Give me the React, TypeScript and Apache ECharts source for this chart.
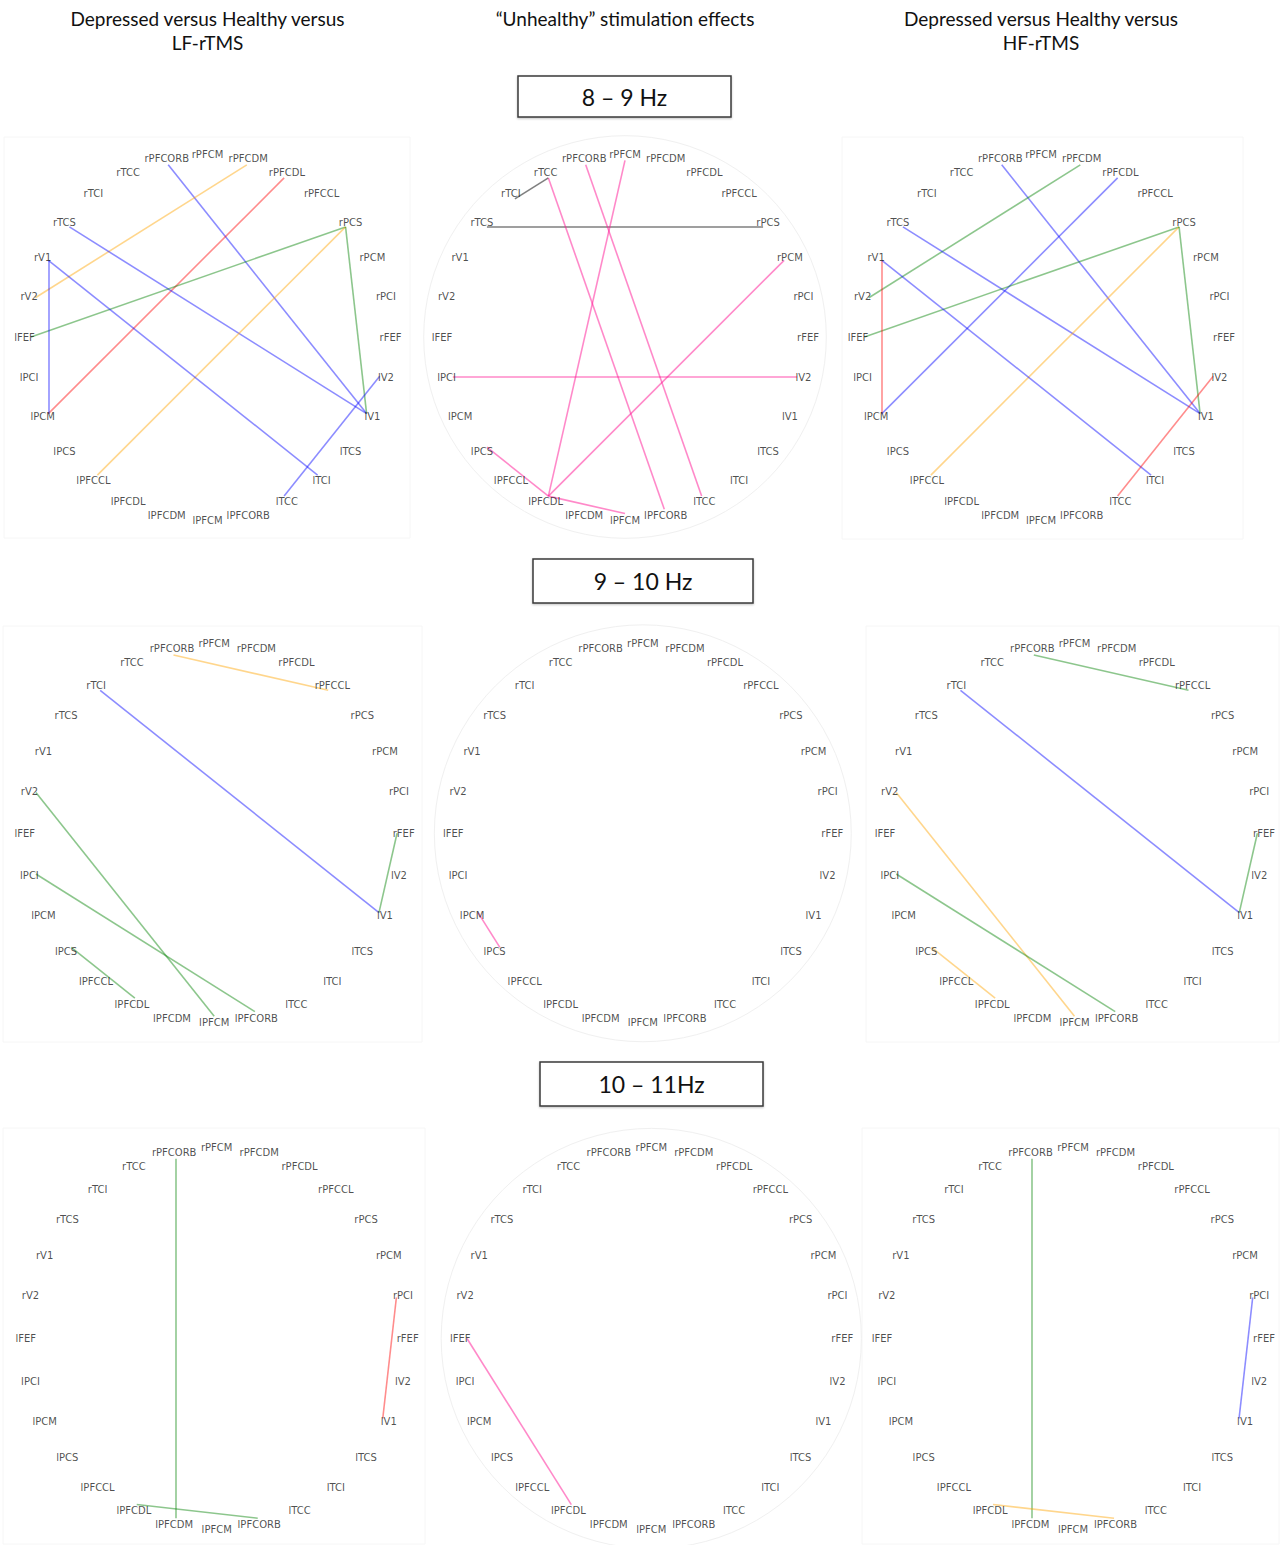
import React, { useEffect, useRef } from 'react';
import * as echarts from 'echarts';

// Brain regions, clockwise from the top of each ring
const NODES: string[] = [
  'rPFCM', 'rPFCDM', 'rPFCDL', 'rPFCCL', 'rPCS', 'rPCM', 'rPCI', 'rFEF',
  'lV2', 'lV1', 'lTCS', 'lTCI', 'lTCC', 'lPFCORB',
  'lPFCM', 'lPFCDM', 'lPFCDL', 'lPFCCL', 'lPCS', 'lPCM', 'lPCI', 'lFEF',
  'rV2', 'rV1', 'rTCS', 'rTCI', 'rTCC', 'rPFCORB',
];

const COLUMN_TITLES: string[] = [
  'Depressed versus Healthy versus\nLF-rTMS',
  '“Unhealthy” stimulation effects',
  'Depressed versus Healthy versus\nHF-rTMS',
];
const BAND_TITLES: string[] = ['8 – 9 Hz', '9 – 10 Hz', '10 – 11Hz'];

type Link = [string, string, string]; // source, target, colour key

// 8 – 9 Hz
const LF_8_9: Link[] = [
  ['rPFCORB', 'lV1', 'blue'],
  ['rPFCDM', 'rV2', 'orange'],
  ['rPFCDL', 'lPCM', 'red'],
  ['rTCS', 'lV1', 'blue'],
  ['rPCS', 'lFEF', 'green'],
  ['rPCS', 'lPFCCL', 'orange'],
  ['rPCS', 'lV1', 'green'],
  ['rV1', 'lPCM', 'blue'],
  ['rV1', 'lTCI', 'blue'],
  ['lV2', 'lTCC', 'blue'],
];
const UNHEALTHY_8_9: Link[] = [
  ['rTCC', 'rTCI', 'gray'],
  ['rTCS', 'rPCS', 'gray'],
  ['rPFCM', 'lPFCDL', 'pink'],
  ['rPFCORB', 'lTCC', 'pink'],
  ['rTCC', 'lPFCORB', 'pink'],
  ['rPCM', 'lPFCDL', 'pink'],
  ['lPCI', 'lV2', 'pink'],
  ['lPCS', 'lPFCDL', 'pink'],
  ['lPFCDL', 'lPFCM', 'pink'],
];
const HF_8_9: Link[] = [
  ['rPFCORB', 'lV1', 'blue'],
  ['rPFCDM', 'rV2', 'green'],
  ['rPFCDL', 'lPCM', 'blue'],
  ['rTCS', 'lV1', 'blue'],
  ['rPCS', 'lFEF', 'green'],
  ['rPCS', 'lPFCCL', 'orange'],
  ['rPCS', 'lV1', 'green'],
  ['rV1', 'lPCM', 'red'],
  ['rV1', 'lTCI', 'blue'],
  ['lV2', 'lTCC', 'red'],
];

// 9 – 10 Hz
const LF_9_10: Link[] = [
  ['rPFCORB', 'rPFCCL', 'orange'],
  ['rTCI', 'lV1', 'blue'],
  ['rFEF', 'lV1', 'green'],
  ['rV2', 'lPFCM', 'green'],
  ['lPCI', 'lPFCORB', 'green'],
  ['lPCS', 'lPFCDL', 'green'],
];
const UNHEALTHY_9_10: Link[] = [
  ['lPCM', 'lPCS', 'pink'],
];
const HF_9_10: Link[] = [
  ['rPFCORB', 'rPFCCL', 'green'],
  ['rTCI', 'lV1', 'blue'],
  ['rFEF', 'lV1', 'green'],
  ['rV2', 'lPFCM', 'orange'],
  ['lPCI', 'lPFCORB', 'green'],
  ['lPCS', 'lPFCDL', 'orange'],
];

// 10 – 11 Hz
const LF_10_11: Link[] = [
  ['rPFCORB', 'lPFCDM', 'green'],
  ['lPFCDL', 'lPFCORB', 'green'],
  ['rPCI', 'lV1', 'red'],
];
const UNHEALTHY_10_11: Link[] = [
  ['lFEF', 'lPFCDL', 'pink'],
];
const HF_10_11: Link[] = [
  ['rPFCORB', 'lPFCDM', 'green'],
  ['lPFCDL', 'lPFCORB', 'orange'],
  ['rPCI', 'lV1', 'blue'],
];

const PANELS: Link[][][] = [
  [LF_8_9, UNHEALTHY_8_9, HF_8_9],
  [LF_9_10, UNHEALTHY_9_10, HF_9_10],
  [LF_10_11, UNHEALTHY_10_11, HF_10_11],
];

const EDGE_COLORS: Record<string, string> = {
  blue: 'rgba(0,0,255,0.45)',
  orange: 'rgba(255,165,0,0.45)',
  red: 'rgba(255,0,0,0.45)',
  green: 'rgba(0,128,0,0.45)',
  pink: 'rgba(255,20,147,0.5)',
  gray: 'rgba(0,0,0,0.5)',
};

// Ring geometry per row: centres of the three rings and the label ring radius (px)
const ROW_LAYOUT = [
  { cy: 337, ring: 183, cx: [207.5, 625, 1041], box: [518, 76, 213, 41] },
  { cy: 833.3, ring: 189.5, cx: [214.2, 642.8, 1074.5], box: [533, 559, 220, 44] },
  { cy: 1338.5, ring: 191, cx: [216.7, 651.3, 1073], box: [540, 1062, 223, 44] },
];
// Light frames around the side panels
const FRAMES: number[][] = [
  [4, 137, 406, 401], [842, 137, 401, 402],
  [3, 626, 419, 416], [866, 626, 413, 416],
  [3, 1128, 422, 416], [862, 1128, 417, 416],
];

const LABEL_R = 1.0;
const NODE_R = 0.965;
const AXIS_MAX = 1.1;

function buildOption() {
  const polar: any[] = [];
  const angleAxis: any[] = [];
  const radiusAxis: any[] = [];
  const series: any[] = [];
  const graphic: any[] = [];

  FRAMES.forEach(([x, y, w, h]) => {
    graphic.push({
      type: 'rect', shape: { x, y, width: w, height: h }, silent: true,
      style: { fill: 'none', stroke: '#f6f6f6', lineWidth: 1 },
    });
  });

  const headerX = ROW_LAYOUT[0].cx;
  COLUMN_TITLES.forEach((t, c) => {
    graphic.push({
      type: 'text', x: headerX[c], y: 6, silent: true,
      style: {
        text: t, fill: '#111', font: '19px Lato', align: 'center', verticalAlign: 'top',
        lineHeight: 24,
      },
    });
  });

  ROW_LAYOUT.forEach((row, r) => {
    const [bx, by, bw, bh] = row.box;
    graphic.push({
      type: 'rect', shape: { x: bx, y: by, width: bw, height: bh }, silent: true,
      style: { fill: '#fff', stroke: '#3a3a3a', lineWidth: 1.5,
        shadowColor: 'rgba(0,0,0,0.25)', shadowBlur: 2, shadowOffsetY: 1 },
    });
    graphic.push({
      type: 'text', x: bx + bw / 2, y: by + bh / 2, silent: true,
      style: { text: BAND_TITLES[r], fill: '#111', font: '23px Lato', align: 'center', verticalAlign: 'middle' },
    });

    row.cx.forEach((cx, c) => {
      const idx = polar.length;
      polar.push({ center: [cx, row.cy], radius: row.ring * AXIS_MAX });
      angleAxis.push({
        polarIndex: idx, type: 'value', min: 0, max: NODES.length, startAngle: 90, clockwise: true,
        axisLine: { show: c === 1, lineStyle: { color: '#f0f0f0', width: 1 } },
        axisTick: { show: false }, axisLabel: { show: false }, splitLine: { show: false },
      });
      radiusAxis.push({
        polarIndex: idx, type: 'value', min: 0, max: AXIS_MAX,
        axisLine: { show: false }, axisTick: { show: false }, axisLabel: { show: false },
        splitLine: { show: false },
      });

      const links = PANELS[r][c];
      series.push({
        type: 'graph', coordinateSystem: 'polar', polarIndex: idx, silent: true,
        symbolSize: 0, label: { show: false },
        data: NODES.map((name, i) => ({ name, value: [NODE_R, i] })),
        links: links.map(([s, t, col]) => ({
          source: s, target: t,
          lineStyle: { color: EDGE_COLORS[col], width: 1.6, opacity: 1, curveness: 0 },
        })),
        lineStyle: { opacity: 1 },
        z: 2,
      });
      series.push({
        type: 'scatter', coordinateSystem: 'polar', polarIndex: idx, silent: true,
        symbolSize: 1, itemStyle: { color: 'rgba(0,0,0,0)' },
        data: NODES.map((name, i) => ({ name, value: [LABEL_R, i] })),
        label: {
          show: true, position: 'inside', formatter: '{b}',
          fontFamily: 'DejaVu Sans', fontSize: 10, color: '#1f1f1f',
        },
        z: 3,
      });
    });
  });

  return {
    animation: false,
    backgroundColor: '#ffffff',
    polar, angleAxis, radiusAxis, series, graphic,
  };
}

export default function App() {
  const ref = useRef<HTMLDivElement>(null);
  useEffect(() => {
    document.body.style.margin = '0';
    if (!ref.current) return;
    const chart = echarts.init(ref.current, undefined, { renderer: 'svg' });
    chart.setOption(buildOption() as any);
    return () => chart.dispose();
  }, []);
  return <div ref={ref} style={{ width: 1280, height: 1545 }} />;
}
